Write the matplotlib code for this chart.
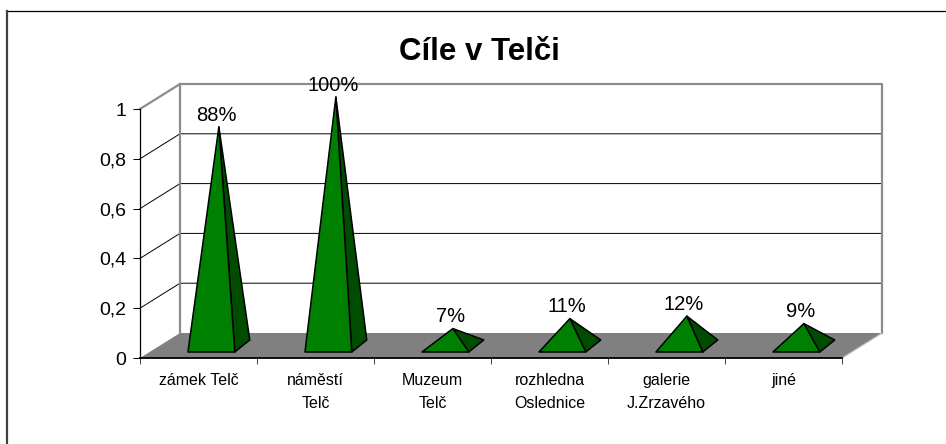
import matplotlib
matplotlib.use("Agg")
import matplotlib.pyplot as plt
from matplotlib.patches import Polygon
from matplotlib.lines import Line2D

plt.rcParams["font.family"] = ["Liberation Sans", "DejaVu Sans"]

# ---- data -------------------------------------------------------------
TITLE = "Cíle v Telči"
categories = ["zámek Telč", "náměstí\nTelč", "Muzeum\nTelč",
              "rozhledna\nOslednice", "galerie\nJ.Zrzavého", "jiné"]
shares = [0.88, 1.00, 0.07, 0.11, 0.12, 0.09]
value_ticks = [0, 0.2, 0.4, 0.6, 0.8, 1.0]
value_tick_labels = ["0", "0,2", "0,4", "0,6", "0,8", "1"]

# ---- layout (pixels, figure is 946 x 444 at 100 dpi) ------------------
W, H, DPI = 946, 444, 100
AX_L, AX_B, AX_W, AX_H = 140, 86, 702, 249   # front plane of the 3D box
n = len(categories)
DX = 40 / (AX_W / n)      # depth slant in category units
DY = 25 / AX_H            # depth slant in value units

# pyramid geometry in data units
PYR_LEFT, PYR_W = 0.41, 0.40
PYR_FRONT = 6 / AX_H
PYR_DX, PYR_DY = 15 / (AX_W / n), 12 / AX_H

GREEN = "#008000"
DARK_GREEN = "#004c00"
FLOOR = "#808080"
WALL_EDGE = "#8c8c8c"


def main():
    fig = plt.figure(figsize=(W / DPI, H / DPI), dpi=DPI)
    ax = fig.add_axes([AX_L / W, AX_B / H, AX_W / W, AX_H / H])
    ax.set_xlim(0, n)
    ax.set_ylim(0, 1)
    ax.patch.set_visible(False)

    # floor
    ax.add_patch(Polygon([(0, 0), (n, 0), (n + DX, DY), (DX, DY)],
                         closed=True, fc=FLOOR, ec="none", zorder=1, clip_on=False))
    ax.plot([n, n + DX], [0, DY], color="#b8b8b8", lw=0.8, zorder=1.5, clip_on=False)

    # back wall grid and side-wall diagonals
    for v in value_ticks[1:-1]:
        ax.plot([0, DX, n + DX], [v, v + DY, v + DY], color="black", lw=0.7,
                zorder=1.2, clip_on=False)
    top = value_ticks[-1]
    ax.plot([0, DX, n + DX, n + DX], [top, top + DY, top + DY, DY],
            color=WALL_EDGE, lw=1.6, zorder=1.3, clip_on=False)
    ax.plot([DX, DX], [DY, top + DY], color=WALL_EDGE, lw=1.6, zorder=1.3, clip_on=False)

    # pyramids
    for i, v in enumerate(shares):
        x0 = i + PYR_LEFT
        fl = (x0, PYR_FRONT)
        fr = (x0 + PYR_W, PYR_FRONT)
        br = (x0 + PYR_W + PYR_DX, PYR_FRONT + PYR_DY)
        apex = (x0 + PYR_W / 2 + PYR_DX / 2, PYR_FRONT + PYR_DY / 2 + v)
        ax.add_patch(Polygon([fr, br, apex], closed=True, fc=DARK_GREEN, ec="black",
                             lw=1.1, joinstyle="round", zorder=3, clip_on=False))
        ax.add_patch(Polygon([fl, fr, apex], closed=True, fc=GREEN, ec="black",
                             lw=1.1, joinstyle="round", zorder=3, clip_on=False))
        ax.annotate(f"{round(v * 100)}%", xy=apex, xytext=(-2, 4.5),
                    textcoords="offset points", ha="center", va="baseline",
                    fontsize=14.5, zorder=4, annotation_clip=False)

    # axes
    for side in ("top", "right"):
        ax.spines[side].set_visible(False)
    ax.spines["left"].set_linewidth(0.9)
    ax.spines["bottom"].set_linewidth(1.3)
    ax.spines["left"].set_zorder(5)
    ax.spines["bottom"].set_zorder(5)

    ax.set_yticks(value_ticks)
    ax.set_yticklabels(value_tick_labels)
    ax.tick_params(axis="y", direction="out", length=5, width=0.7, pad=5, labelsize=14)

    ax.set_xticks(range(n + 1))
    ax.set_xticklabels([])
    ax.set_xticks([i + 0.5 for i in range(n)], minor=True)
    ax.set_xticklabels(categories, minor=True, fontsize=11.5, linespacing=1.7)
    ax.tick_params(axis="x", which="major", direction="out", length=4, width=0.7,
                   color="#404040")
    ax.tick_params(axis="x", which="minor", length=0, pad=10.5)

    # title and outer frame
    fig.text(479 / W, 1 - 60 / H, TITLE, ha="center", va="baseline",
             fontsize=22.5, fontweight="bold")
    fig.add_artist(Line2D([6.5 / W, 1], [1 - 11.5 / H] * 2, color="black", lw=0.9))
    fig.add_artist(Line2D([6.5 / W] * 2, [0, 1 - 11 / H], color="#404040", lw=1.6))

    fig.savefig("out.png", dpi=DPI)


if __name__ == "__main__":
    main()
